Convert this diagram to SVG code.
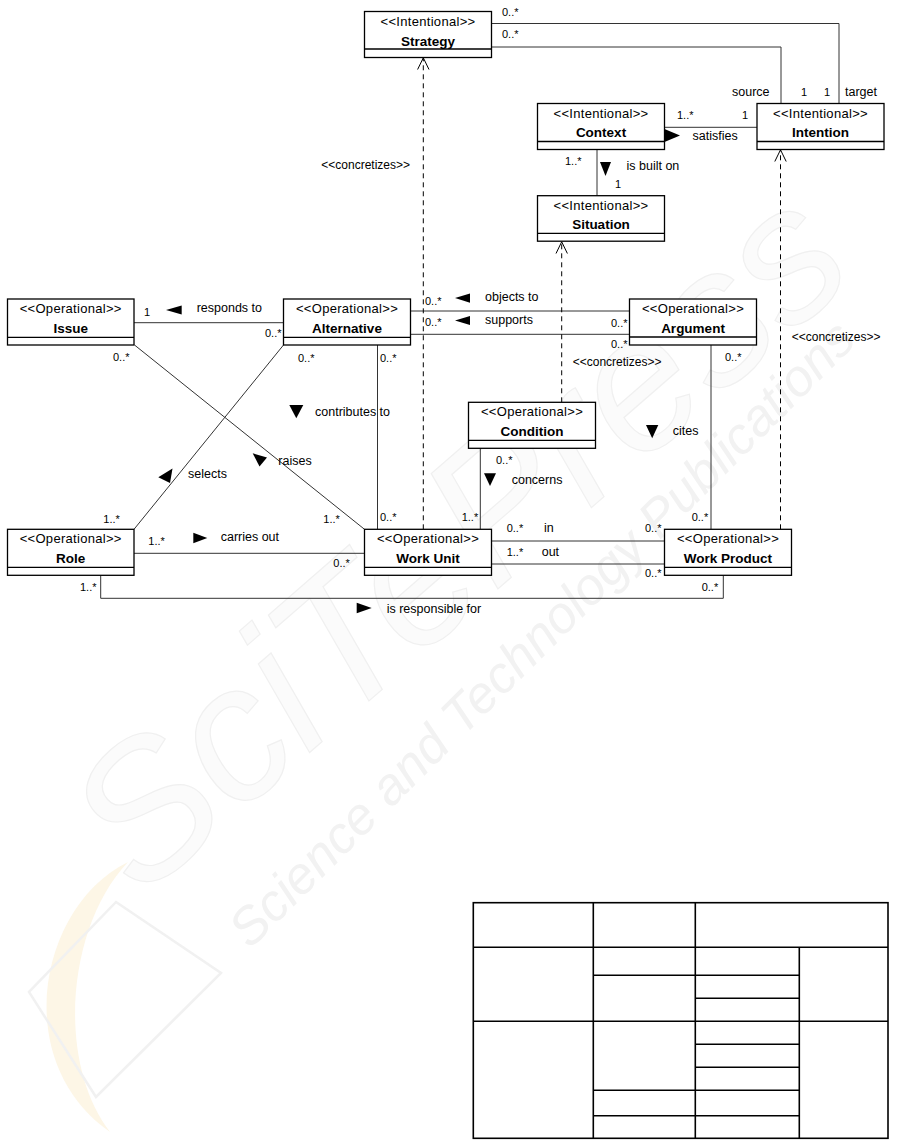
<svg xmlns="http://www.w3.org/2000/svg" width="912" height="1144" viewBox="0 0 912 1144">
<style>
.box{fill:#fff;stroke:#000;stroke-width:1.3}
.sep{stroke:#000;stroke-width:1.3}
.st{font-family:"Liberation Sans",Arial,sans-serif;font-size:13px;letter-spacing:0.3px;text-anchor:middle;fill:#000}
.nm{font-family:"Liberation Sans",Arial,sans-serif;font-size:13.5px;font-weight:bold;text-anchor:middle;fill:#000}
.ln{fill:none;stroke:#333;stroke-width:1}
.dash{fill:none;stroke:#000;stroke-width:1;stroke-dasharray:5,4}
.open{fill:none;stroke:#000;stroke-width:1}
.lb{font-family:"Liberation Sans",Arial,sans-serif;font-size:12.5px;fill:#000}
.mu{font-family:"Liberation Sans",Arial,sans-serif;font-size:11px;fill:#000}
.cz{font-family:"Liberation Sans",Arial,sans-serif;font-size:12px;fill:#000}
.tri{fill:#000}
.tb{fill:none;stroke:#000;stroke-width:1.6}
.wm{font-family:"Liberation Sans",Arial,sans-serif;font-style:italic}
</style>

<g id="watermark">
<path d="M128,862 C40,905 8,1060 110,1132 C55,1060 68,925 128,862 Z" fill="#fdf6e6"/>
<polygon points="116,902 221,973 96,1097 29,992" fill="none" stroke="#f1f1f1" stroke-width="2.5"/>
<text class="wm" transform="translate(140,900) rotate(-41)" font-size="190" fill="#fbfbfb" stroke="#f0f0f0" stroke-width="1.2">SciTePress</text>
<text class="wm" transform="translate(250,950) rotate(-45)" font-size="52" fill="#f2f2f2">Science and Technology Publications</text>
</g>

<g id="connectors">
<!-- Strategy - Intention -->
<polyline class="ln" points="491.5,23.5 839,23.5 839,103.5"/>
<polyline class="ln" points="491.5,47 781,47 781,103.5"/>
<text class="mu" x="502" y="16">0..*</text>
<text class="mu" x="502" y="38">0..*</text>
<text class="lb" x="732" y="96" font-size="12">source</text>
<text class="mu" x="801" y="96">1</text>
<text class="mu" x="824" y="96">1</text>
<text class="lb" x="845" y="96" font-size="12">target</text>
<!-- Context - Intention -->
<line class="ln" x1="664.5" y1="127.3" x2="757" y2="127.3"/>
<polygon class="tri" points="664.5,129 680,135.5 664.5,142"/>
<text class="lb" x="692.5" y="139.5">satisfies</text>
<text class="mu" x="677" y="119">1..*</text>
<text class="mu" x="742" y="119">1</text>
<!-- Context - Situation -->
<line class="ln" x1="597" y1="149.5" x2="597" y2="195.7"/>
<polygon class="tri" points="600,162 611,162 605.5,176"/>
<text class="lb" x="626.5" y="170">is built on</text>
<text class="mu" x="565" y="165">1..*</text>
<text class="mu" x="615" y="187.5">1</text>
<!-- Issue - Alternative -->
<line class="ln" x1="134" y1="322.7" x2="283.5" y2="322.7"/>
<text class="mu" x="144" y="316">1</text>
<polygon class="tri" points="166,310 181.7,305.5 181.7,314.5"/>
<text class="lb" x="196.7" y="311.5">responds to</text>
<text class="mu" x="265" y="337">0..*</text>
<!-- Alternative - Argument -->
<line class="ln" x1="410.5" y1="311" x2="629.5" y2="311"/>
<line class="ln" x1="410.5" y1="334.3" x2="629.5" y2="334.3"/>
<text class="mu" x="425" y="305">0..*</text>
<polygon class="tri" points="455,298 470,293.5 470,302.7"/>
<text class="lb" x="485" y="301">objects to</text>
<text class="mu" x="425" y="326">0..*</text>
<polygon class="tri" points="455,320.5 470,316 470,325"/>
<text class="lb" x="485" y="323.5">supports</text>
<text class="mu" x="611" y="326.5">0..*</text>
<text class="mu" x="611" y="347.5">0..*</text>
<!-- Issue - Work Unit (raises) -->
<line class="ln" x1="134.5" y1="345" x2="364.5" y2="529.3" stroke="#000"/>
<text class="mu" x="113" y="361">0..*</text>
<polygon class="tri" points="252.7,453.3 267,457.5 259.5,466.5"/>
<text class="lb" x="278.3" y="464.5">raises</text>
<text class="mu" x="323.3" y="522.5">1..*</text>
<!-- Alternative - Role (selects) -->
<line class="ln" x1="283.5" y1="345" x2="134" y2="529.3" stroke="#000"/>
<text class="mu" x="298" y="361.5">0..*</text>
<polygon class="tri" points="172.5,468.5 158.3,477.3 170,483"/>
<text class="lb" x="188" y="477.5">selects</text>
<text class="mu" x="103.3" y="522.5">1..*</text>
<!-- Alternative - Work Unit (contributes to) -->
<line class="ln" x1="377.5" y1="345" x2="377.5" y2="529.3"/>
<text class="mu" x="380" y="361.5">0..*</text>
<polygon class="tri" points="289.3,405 303.3,405 296.3,418.3"/>
<text class="lb" x="315" y="415.5">contributes to</text>
<text class="mu" x="380" y="521">0..*</text>
<!-- Role - Work Unit (carries out) -->
<line class="ln" x1="134" y1="553.3" x2="364.5" y2="553.3"/>
<text class="mu" x="148.3" y="545">1..*</text>
<polygon class="tri" points="193.3,532.7 207.3,538 193.3,543.3"/>
<text class="lb" x="220.7" y="541">carries out</text>
<text class="mu" x="333.3" y="567">0..*</text>
<!-- Role - Work Product (is responsible for) -->
<polyline class="ln" points="100.7,575.3 100.7,598.3 723.3,598.3 723.3,575.3"/>
<text class="mu" x="80" y="591">1..*</text>
<polygon class="tri" points="356.7,602.7 371.7,608 356.7,613.3"/>
<text class="lb" x="386.7" y="612.5" font-size="13">is responsible for</text>
<text class="mu" x="701.7" y="591">0..*</text>
<!-- Condition - Work Unit (concerns) -->
<line class="ln" x1="480.3" y1="448.3" x2="480.3" y2="529.3"/>
<text class="mu" x="496" y="463.5">0..*</text>
<polygon class="tri" points="484,473.3 496,473.3 490,486"/>
<text class="lb" x="511.7" y="483.5" font-size="13">concerns</text>
<text class="mu" x="461.7" y="521">1..*</text>
<!-- Work Unit - Work Product (in / out) -->
<line class="ln" x1="491.5" y1="541" x2="664.5" y2="541"/>
<line class="ln" x1="491.5" y1="564" x2="664.5" y2="564"/>
<text class="mu" x="506.7" y="531.5">0..*</text>
<text class="lb" x="544" y="531.5">in</text>
<text class="mu" x="645" y="531.5">0..*</text>
<text class="mu" x="506.7" y="556">1..*</text>
<text class="lb" x="541.7" y="556">out</text>
<text class="mu" x="645" y="577">0..*</text>
<!-- Argument - Work Product (cites) -->
<line class="ln" x1="711" y1="345" x2="711" y2="529.3"/>
<text class="mu" x="725" y="361">0..*</text>
<polygon class="tri" points="646,425 658.3,425 652.2,438.3"/>
<text class="lb" x="672.7" y="434.5">cites</text>
<text class="mu" x="691.7" y="521">0..*</text>
<!-- concretizes dependencies -->
<line class="dash" x1="423.3" y1="529.3" x2="423.3" y2="58"/>
<polyline class="open" points="417.6,69.5 423.3,57.8 429,69.5"/>
<text class="cz" x="410" y="169" text-anchor="end">&lt;&lt;concretizes&gt;&gt;</text>
<line class="dash" x1="561.7" y1="402.3" x2="561.7" y2="242"/>
<polyline class="open" points="556,253.5 561.7,241.8 567.4,253.5"/>
<text class="cz" x="572.7" y="366">&lt;&lt;concretizes&gt;&gt;</text>
<line class="dash" x1="780.5" y1="529.3" x2="780.5" y2="150"/>
<polyline class="open" points="774.8,161.5 780.5,149.8 786.2,161.5"/>
<text class="cz" x="791.7" y="341">&lt;&lt;concretizes&gt;&gt;</text>
</g>

<g id="strategy">
<rect class="box" x="364.5" y="11.5" width="127" height="46"/>
<line class="sep" x1="364.5" y1="49" x2="491.5" y2="49"/>
<text class="st" x="428" y="25.5">&lt;&lt;Intentional&gt;&gt;</text>
<text class="nm" x="428" y="45.5">Strategy</text>
</g>
<g id="intention">
<rect class="box" x="757" y="103.5" width="127" height="46"/>
<line class="sep" x1="757" y1="141.5" x2="884" y2="141.5"/>
<text class="st" x="820.5" y="117.5">&lt;&lt;Intentional&gt;&gt;</text>
<text class="nm" x="820.5" y="137">Intention</text>
</g>
<g id="context">
<rect class="box" x="537.5" y="103.5" width="127" height="46"/>
<line class="sep" x1="537.5" y1="141.5" x2="664.5" y2="141.5"/>
<text class="st" x="601" y="117.5">&lt;&lt;Intentional&gt;&gt;</text>
<text class="nm" x="601" y="137">Context</text>
</g>
<g id="situation">
<rect class="box" x="537.5" y="195.7" width="127" height="45.5"/>
<line class="sep" x1="537.5" y1="233.3" x2="664.5" y2="233.3"/>
<text class="st" x="601" y="209.5">&lt;&lt;Intentional&gt;&gt;</text>
<text class="nm" x="601" y="229">Situation</text>
</g>
<g id="issue">
<rect class="box" x="7.5" y="299" width="126.5" height="46"/>
<line class="sep" x1="7.5" y1="337.3" x2="134" y2="337.3"/>
<text class="st" x="70.7" y="313">&lt;&lt;Operational&gt;&gt;</text>
<text class="nm" x="70.7" y="332.5">Issue</text>
</g>
<g id="alternative">
<rect class="box" x="283.5" y="299" width="127" height="46"/>
<line class="sep" x1="283.5" y1="337.3" x2="410.5" y2="337.3"/>
<text class="st" x="347" y="313">&lt;&lt;Operational&gt;&gt;</text>
<text class="nm" x="347" y="332.5">Alternative</text>
</g>
<g id="argument">
<rect class="box" x="629.5" y="299" width="127" height="46"/>
<line class="sep" x1="629.5" y1="337" x2="756.5" y2="337"/>
<text class="st" x="693" y="313">&lt;&lt;Operational&gt;&gt;</text>
<text class="nm" x="693" y="332.5">Argument</text>
</g>
<g id="condition">
<rect class="box" x="468.5" y="402.3" width="127" height="46"/>
<line class="sep" x1="468.5" y1="440.3" x2="595.5" y2="440.3"/>
<text class="st" x="532" y="416.3">&lt;&lt;Operational&gt;&gt;</text>
<text class="nm" x="532" y="435.8">Condition</text>
</g>
<g id="role">
<rect class="box" x="7.5" y="529.3" width="126.5" height="46"/>
<line class="sep" x1="7.5" y1="567.3" x2="134" y2="567.3"/>
<text class="st" x="70.7" y="543.3">&lt;&lt;Operational&gt;&gt;</text>
<text class="nm" x="70.7" y="562.8">Role</text>
</g>
<g id="workunit">
<rect class="box" x="364.5" y="529.3" width="127" height="46"/>
<line class="sep" x1="364.5" y1="567.3" x2="491.5" y2="567.3"/>
<text class="st" x="428" y="543.3">&lt;&lt;Operational&gt;&gt;</text>
<text class="nm" x="428" y="562.8">Work Unit</text>
</g>
<g id="workproduct">
<rect class="box" x="664.5" y="529.3" width="127" height="46"/>
<line class="sep" x1="664.5" y1="567.3" x2="791.5" y2="567.3"/>
<text class="st" x="728" y="543.3">&lt;&lt;Operational&gt;&gt;</text>
<text class="nm" x="728" y="562.8">Work Product</text>
</g>

<g id="table">
<rect class="tb" x="473.3" y="902.7" width="414.7" height="235.6"/>
<line class="tb" x1="473.3" y1="947.3" x2="888" y2="947.3"/>
<line class="tb" x1="473.3" y1="1021.3" x2="888" y2="1021.3"/>
<line class="tb" x1="593.3" y1="902.7" x2="593.3" y2="1138.3"/>
<line class="tb" x1="695.3" y1="902.7" x2="695.3" y2="1138.3"/>
<line class="tb" x1="799.3" y1="947.3" x2="799.3" y2="1138.3"/>
<line class="tb" x1="593.3" y1="975.3" x2="799.3" y2="975.3"/>
<line class="tb" x1="695.3" y1="998.3" x2="799.3" y2="998.3"/>
<line class="tb" x1="695.3" y1="1044.3" x2="799.3" y2="1044.3"/>
<line class="tb" x1="695.3" y1="1067.3" x2="799.3" y2="1067.3"/>
<line class="tb" x1="593.3" y1="1090.3" x2="799.3" y2="1090.3"/>
<line class="tb" x1="593.3" y1="1115.7" x2="799.3" y2="1115.7"/>
</g>
</svg>
